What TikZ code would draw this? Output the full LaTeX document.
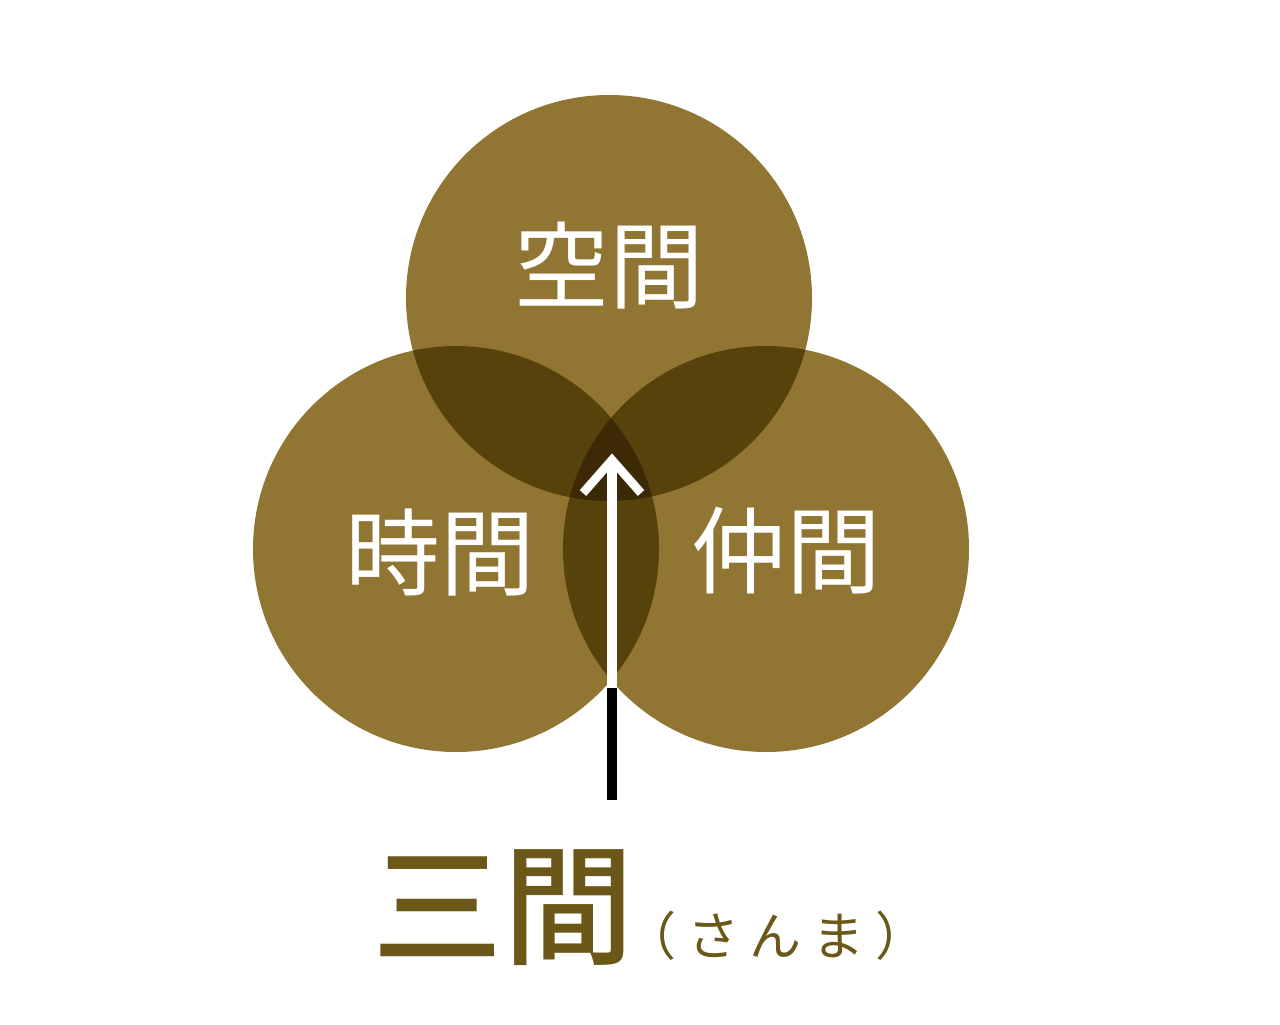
\documentclass[tikz,border=0pt]{standalone}
\usepackage{fontspec}
\newfontfamily\jsans{Noto Sans CJK JP}
\newfontfamily\jbold{Noto Sans CJK JP Medium}
\definecolor{base}{HTML}{917532}
\definecolor{dual}{HTML}{57420C}
\definecolor{triple}{HTML}{3B2A05}
\definecolor{olive}{HTML}{6B5819}
\newcommand{\ksp}{\kern8pt}
\begin{document}
\begin{tikzpicture}[x=0.75pt,y=-0.75pt,
  lbl/.style={text=white,font=\jsans\fontsize{71}{75}\selectfont,inner sep=0pt},
  title/.style={text=olive,font=\jbold\fontsize{98}{104}\selectfont,inner sep=0pt},
  sub/.style={text=olive,font=\jsans\fontsize{39}{42}\selectfont,inner sep=0pt}]
\useasboundingbox (0,0) rectangle (1280,1024);
\fill[white] (0,0) rectangle (1280,1024);
\def\R{203}
\coordinate (T) at (609,298);
\coordinate (L) at (456,549);
\coordinate (Rc) at (766,549);
\fill[base] (T) circle (\R);
\fill[base] (L) circle (\R);
\fill[base] (Rc) circle (\R);
\begin{scope}\clip (T) circle (\R); \fill[dual] (L) circle (\R); \fill[dual] (Rc) circle (\R);\end{scope}
\begin{scope}\clip (L) circle (\R); \fill[dual] (Rc) circle (\R);\end{scope}
\begin{scope}\clip (T) circle (\R); \clip (L) circle (\R); \fill[triple] (Rc) circle (\R);\end{scope}
\node[lbl] (kukan) at (609,266) {空間};
\node[lbl] (jikan) at (440,553) {時間};
\node[lbl] (nakama) at (786,551) {仲間};
\coordinate (tip) at (612,459);
\coordinate (mid) at (612,688);
\coordinate (bot) at (612,800);
\draw[black,line width=7pt] (bot) -- (mid);
\draw[white,line width=7.5pt] (mid) -- (tip);
\draw[white,line width=6.5pt,line join=miter] (583,493) -- (612,460) -- (641,493);
\node[title] (sanma) at (503,908) {三間};
\node[sub] (yomi) at (776,936) {（\ksp さ\ksp ん\ksp ま\ksp ）};
\end{tikzpicture}
\end{document}
